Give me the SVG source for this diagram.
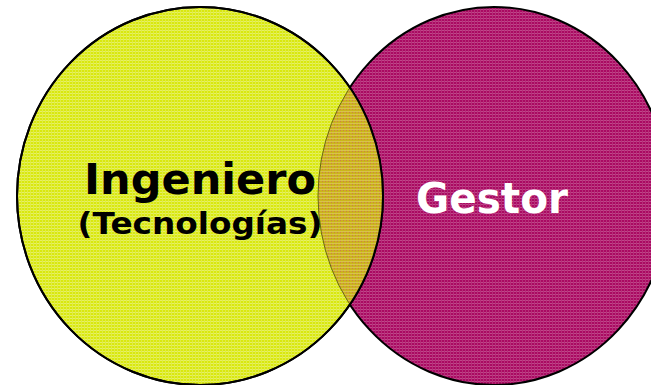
<svg xmlns="http://www.w3.org/2000/svg" width="651" height="385" viewBox="0 0 651 385">
  <defs>
    <pattern id="pY" width="3" height="3" patternUnits="userSpaceOnUse">
      <rect width="3" height="3" fill="#d9e80e"/>
      <rect x="0" y="0" width="3" height="1" fill="#e6f065"/>
      <rect x="0" y="0" width="1" height="3" fill="#e0ec45"/>
    </pattern>
    <pattern id="pM" width="3" height="3" patternUnits="userSpaceOnUse">
      <rect width="3" height="3" fill="#aa0a62"/>
      <rect x="0" y="0" width="3" height="1" fill="#c0478a"/>
      <rect x="0" y="0" width="1" height="3" fill="#b52f78"/>
    </pattern>
    <pattern id="pO" width="3" height="3" patternUnits="userSpaceOnUse">
      <rect width="3" height="3" fill="#cbb51c"/>
      <rect x="0" y="0" width="3" height="1" fill="#d8c24e"/>
      <rect x="1" y="1" width="1" height="1" fill="#cf7d4a"/>
    </pattern>
    <clipPath id="clipL">
      <ellipse cx="200" cy="196" rx="183" ry="189"/>
    </clipPath>
  </defs>
  <style>
    .edge { stroke: #000; stroke-width: 2; }
    .lbl { font-family: "DejaVu Sans", Verdana, sans-serif; font-weight: bold; text-anchor: middle; }
  </style>
  <g id="gestor">
    <ellipse cx="494" cy="196" rx="176" ry="189" fill="url(#pM)" class="edge"/>
  </g>
  <g id="ingeniero">
    <ellipse cx="200" cy="196" rx="183" ry="189" fill="url(#pY)" class="edge"/>
  </g>
  <g id="overlap">
    <ellipse cx="494" cy="196" rx="176" ry="189" fill="url(#pO)" clip-path="url(#clipL)"/>
    <ellipse cx="494" cy="196" rx="176" ry="189" fill="none" stroke="#6b6a10" stroke-width="1" clip-path="url(#clipL)"/>
    <ellipse cx="200" cy="196" rx="183" ry="189" fill="none" class="edge"/>
  </g>
  <g id="labels">
    <text class="lbl" x="200" y="194" font-size="42" fill="#000" textLength="232" lengthAdjust="spacingAndGlyphs">Ingeniero</text>
    <text class="lbl" x="200" y="234" font-size="30" fill="#000" textLength="245" lengthAdjust="spacingAndGlyphs">(Tecnologías)</text>
    <text class="lbl" x="492" y="213" font-size="42" fill="#fff" textLength="152" lengthAdjust="spacingAndGlyphs">Gestor</text>
  </g>
</svg>
